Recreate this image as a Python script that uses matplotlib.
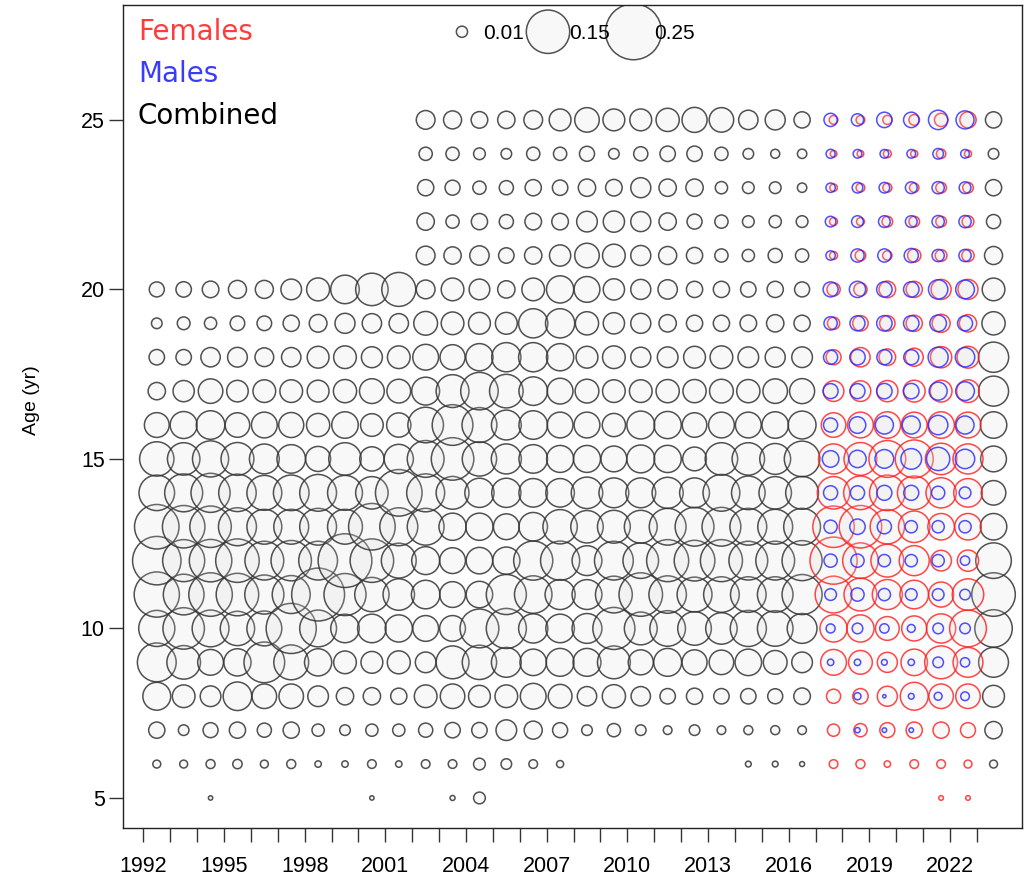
import matplotlib
matplotlib.use('Agg')
import matplotlib.pyplot as plt

# ages on the y axis, one value per row of each year list below
ages = list(range(5, 26))
comb_years = list(range(1992, 2017)) + [2023]
sex_years = list(range(2017, 2023))

# combined proportions at age, one list per year (ages 5..25)
combined = [
    [0, .005, .021, .062, .12, .104, .163, .187, .158, .101, .094, .049, .024, .019, .009, .018, 0, 0, 0, 0, 0],
    [0, .005, .009, .041, .09, .137, .132, .141, .144, .115, .084, .058, .036, .019, .013, .019, 0, 0, 0, 0, 0],
    [.0015, .0065, .018, .034, .053, .108, .151, .144, .137, .122, .104, .065, .048, .03, .012, .022, 0, 0, 0, 0, 0],
    [0, .007, .021, .065, .059, .094, .144, .151, .115, .112, .086, .048, .037, .031, .017, .026, 0, 0, 0, 0, 0],
    [0, .005, .016, .048, .132, .097, .122, .12, .097, .097, .071, .053, .041, .028, .017, .026, 0, 0, 0, 0, 0],
    [0, .0065, .021, .048, .097, .2, .115, .13, .097, .101, .065, .05, .041, .03, .021, .034, 0, 0, 0, 0, 0],
    [0, .0033, .012, .034, .059, .108, .223, .12, .108, .108, .05, .043, .038, .038, .025, .042, 0, 0, 0, 0, 0],
    [0, .0033, .009, .024, .041, .065, .141, .23, .097, .097, .084, .056, .043, .041, .032, .065, 0, 0, 0, 0, 0],
    [.0015, .006, .012, .024, .038, .065, .094, .151, .173, .084, .047, .041, .049, .035, .03, .084, 0, 0, 0, 0, 0],
    [0, .0033, .012, .021, .042, .059, .079, .097, .115, .173, .068, .047, .045, .041, .03, .092, 0, 0, 0, 0, 0],
    [0, .006, .016, .041, .034, .053, .065, .062, .108, .115, .108, .101, .062, .053, .045, .028, .028, .024, .021, .014, .028],
    [.002, .006, .019, .048, .086, .053, .053, .053, .059, .086, .144, .132, .086, .05, .041, .041, .024, .014, .018, .014, .026],
    [.011, .011, .019, .038, .094, .12, .056, .056, .059, .068, .094, .097, .112, .059, .038, .034, .03, .021, .014, .011, .022],
    [0, .009, .034, .041, .071, .128, .128, .059, .053, .068, .072, .071, .09, .068, .038, .024, .019, .016, .016, .009, .024],
    [0, .006, .026, .053, .056, .068, .112, .122, .065, .065, .065, .065, .065, .068, .068, .041, .024, .022, .021, .014, .028],
    [0, .004, .018, .045, .062, .065, .072, .122, .094, .065, .058, .053, .053, .059, .068, .059, .036, .022, .019, .014, .038],
    [0, 0, .009, .03, .062, .071, .071, .071, .084, .079, .058, .053, .045, .038, .043, .053, .048, .034, .024, .018, .048],
    [0, 0, .014, .043, .086, .141, .108, .12, .086, .071, .053, .043, .041, .041, .036, .036, .041, .036, .022, .009, .038],
    [0, 0, .009, .03, .05, .086, .151, .101, .086, .071, .062, .062, .041, .032, .032, .032, .032, .032, .032, .016, .038],
    [0, 0, .006, .019, .062, .101, .112, .141, .108, .077, .059, .059, .043, .034, .024, .03, .026, .024, .024, .019, .043],
    [0, 0, .009, .021, .05, .09, .097, .132, .12, .071, .045, .048, .043, .038, .021, .021, .021, .018, .024, .019, .05],
    [0, 0, .006, .019, .048, .079, .101, .141, .12, .108, .084, .053, .045, .041, .021, .021, .014, .014, .012, .014, .048],
    [0, .0027, .0065, .019, .056, .104, .101, .12, .108, .09, .084, .053, .043, .034, .022, .019, .012, .011, .011, .009, .03],
    [0, .0027, .0065, .018, .045, .101, .101, .12, .097, .084, .076, .056, .048, .032, .024, .021, .016, .012, .011, .0065, .032],
    [0, .002, .006, .022, .034, .071, .128, .128, .108, .086, .101, .062, .05, .034, .021, .018, .014, .011, .007, .007, .021],
    [0, .005, .024, .038, .071, .112, .151, .101, .056, .048, .053, .056, .072, .073, .043, .041, .026, .016, .021, .009, .021],
]

females = [
    [0, .006, .012, .016, .053, .059, .108, .177, .137, .084, .072, .048, .034, .018, .012, .014, .005, .005, .0045, .0035, .006],
    [0, .0065, .014, .019, .045, .059, .086, .101, .144, .09, .086, .053, .034, .03, .019, .014, .009, .005, .006, .0035, .006],
    [0, .0033, .018, .032, .032, .045, .072, .086, .094, .101, .108, .056, .036, .022, .019, .022, .007, .009, .0065, .005, .0065],
    [0, .006, .021, .062, .056, .05, .065, .072, .079, .09, .115, .053, .038, .026, .021, .021, .014, .009, .007, .004, .009],
    [.0017, .006, .021, .048, .086, .068, .05, .034, .056, .073, .079, .056, .038, .036, .026, .032, .011, .009, .009, .007, .014],
    [.0017, .005, .018, .048, .071, .108, .079, .036, .056, .065, .072, .053, .041, .038, .024, .032, .012, .011, .009, .004, .021],
]

males = [
    [0, 0, 0, 0, .0033, .0065, .011, .014, .014, .016, .022, .016, .018, .016, .014, .018, .007, .009, .007, .0065, .014],
    [0, 0, .0022, .004, .0033, .009, .014, .014, .019, .016, .024, .022, .018, .019, .018, .021, .014, .011, .009, .006, .012],
    [0, 0, .0017, .0009, .0027, .007, .012, .012, .016, .018, .028, .026, .019, .018, .019, .019, .014, .011, .009, .006, .019],
    [0, 0, .0017, .0027, .0033, .005, .011, .012, .012, .018, .034, .026, .019, .018, .019, .019, .016, .011, .011, .006, .019],
    [0, 0, 0, .005, .009, .009, .011, .012, .012, .014, .043, .03, .026, .032, .022, .03, .012, .012, .012, .009, .03],
    [0, 0, 0, .006, .007, .009, .009, .007, .012, .011, .03, .026, .028, .03, .018, .028, .012, .012, .011, .006, .026],
]

legend_sizes = [0.01, 0.15, 0.25]
legend_labels = ['0.01', '0.15', '0.25']

# marker area (pt^2) per unit proportion
bubble_scale = 6500
fill = (0.85, 0.85, 0.85, 0.18)
grey_edge = (0.2, 0.2, 0.2, 0.85)


def flatten(years, table, shift):
    xs, ys, ps = [], [], []
    for yr, row in zip(years, table):
        for age, p in zip(ages, row):
            if p > 0:
                xs.append(yr + shift)
                ys.append(age)
                ps.append(p * bubble_scale)
    return xs, ys, ps


fig = plt.figure(figsize=(10.28, 8.86), dpi=100)
ax = fig.add_axes([0.1194, 0.0655, 0.8748, 0.9289])

# combined years (last year sits a little further right in the original)
xs, ys, ps = flatten(comb_years[:-1], combined[:-1], 0.5)
ax.scatter(xs, ys, s=ps, facecolors=fill, edgecolors=grey_edge, linewidths=1.1)
xs, ys, ps = flatten(comb_years[-1:], combined[-1:], 0.62)
ax.scatter(xs, ys, s=ps, facecolors=fill, edgecolors=grey_edge, linewidths=1.1)

xs, ys, ps = flatten(sex_years, females, 0.67)
ax.scatter(xs, ys, s=ps, facecolors=fill, edgecolors=(1, 0.1, 0.1, 0.8), linewidths=1.1)
xs, ys, ps = flatten(sex_years, males, 0.56)
ax.scatter(xs, ys, s=ps, facecolors=fill, edgecolors=(0.15, 0.15, 1, 0.8), linewidths=1.1)

# size legend
leg_x = [2003.85, 2007.05, 2010.23]
ax.scatter(leg_x, [27.6] * 3, s=[v * bubble_scale for v in legend_sizes],
           facecolors=fill, edgecolors=grey_edge, linewidths=1.1)
for lx, lab in zip(leg_x, legend_labels):
    ax.text(lx + 0.78, 27.55, lab, fontsize=15, family='Liberation Sans',
            va='center', ha='left', color='black')

ax.text(1991.8, 27.6, 'Females', color='#ff3b3b', fontsize=20, va='center', ha='left')
ax.text(1991.8, 26.36, 'Males', color='#3b3bff', fontsize=20, va='center', ha='left')
ax.text(1991.8, 25.12, 'Combined', color='black', fontsize=20, va='center', ha='left')

ax.set_xlim(1991.234, 2024.68)
ax.set_ylim(4.115, 28.39)

tick_years = list(range(1992, 2024))
ax.set_xticks(tick_years)
ax.set_xticklabels([str(y) if (y - 1992) % 3 == 0 else '' for y in tick_years],
                   family='Liberation Sans', fontsize=15.5)
ax.set_yticks([5, 10, 15, 20, 25])
ax.set_yticklabels(['5', '10', '15', '20', '25'], family='Liberation Sans', fontsize=15.5)
ax.tick_params(axis='x', length=10, width=1.0, color='#333333', pad=10)
ax.tick_params(axis='y', length=10, width=1.0, color='#333333', pad=3)

for sp in ax.spines.values():
    sp.set_linewidth(1.0)
    sp.set_color('#222222')

ax.set_ylabel('Age (yr)', family='Liberation Sans', fontsize=14)
ax.yaxis.set_label_coords(-0.092, 0.52)

fig.savefig('out.png', dpi=100)
